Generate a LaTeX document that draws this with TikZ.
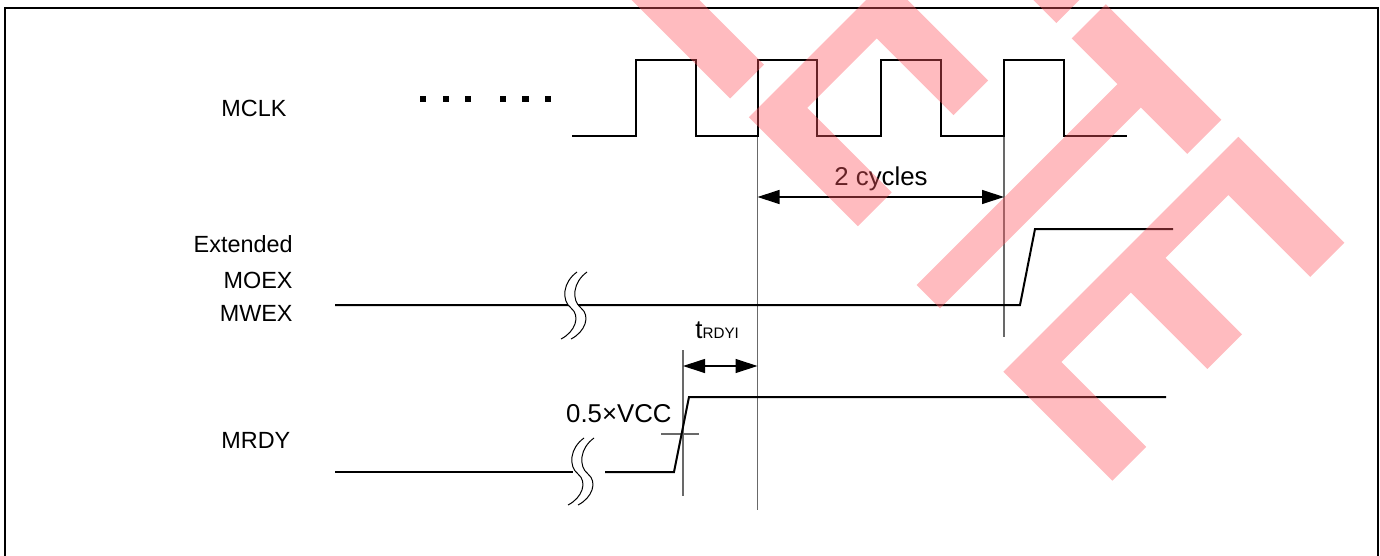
\documentclass[tikz,border=0pt]{standalone}
\usepackage{fontspec}
\setmainfont{Liberation Sans}
\usetikzlibrary{arrows.meta}
\definecolor{wm}{RGB}{255,85,95}
\definecolor{guide}{RGB}{105,105,105}
\tikzset{
  sig/.style={line width=1pt, line join=miter, black},
  guideline/.style={line width=0.6pt, guide},
  dim/.style={line width=0.6pt, {Triangle[length=11pt,width=7pt]}-{Triangle[length=11pt,width=7pt]}},
  lbl/.style={inner sep=0pt, font=\fontsize{11.7}{14}\selectfont},
  ann/.style={inner sep=0pt, font=\fontsize{12.9}{15}\selectfont},
  wmark/.style={fill=wm, fill opacity=0.4},
  pics/brk/.style={code={
    \fill[white] (0,0) .. controls (-14,10) and (-16,28) .. (-6,36) .. controls (4,44) and (-2,60) .. (-16,67)
       -- (-6,67) .. controls (8,60) and (14,44) .. (4,36) .. controls (-6,28) and (-4,10) .. (10,0) -- cycle;
    \draw[line width=0.5pt] (0,0) .. controls (-14,10) and (-16,28) .. (-6,36) .. controls (4,44) and (-2,60) .. (-16,67);
    \draw[line width=0.5pt] (10,0) .. controls (-4,10) and (-6,28) .. (4,36) .. controls (14,44) and (8,60) .. (-6,67);
  }}
}
\begin{document}
\begin{tikzpicture}[x=0.5pt,y=-0.5pt]
\useasboundingbox (0,0) rectangle (1380,556);
\clip (0,0) rectangle (1380,556);
\draw[line width=1.2pt] (5,600) -- (5,8) -- (1378,8) -- (1378,600);

% labels
\node[lbl,anchor=west] (mclk) at (221,108) {MCLK};
\node[lbl,anchor=east] (ext) at (293,244) {Extended};
\node[lbl,anchor=east] (moex) at (293,280) {MOEX};
\node[lbl,anchor=east] (mwex) at (293,313) {MWEX};
\node[lbl,anchor=west] (mrdy) at (221,440) {MRDY};

% dots
\foreach \x in {422.7,445.7,468,502.7,525.3,547.7}
  \fill (\x-3.2,96) rectangle (\x+3.2,102.4);

% guide lines
\draw[guideline] (757.5,136) -- (757.5,510);
\draw[guideline] (1004,136) -- (1004,337);
\draw[guideline] (683,350) -- (683,496);
\draw[guideline] (661,434) -- (699,434);

% MCLK
\draw[sig] (572,136) -- (636,136) -- (636,60) -- (696,60) -- (696,136) -- (757.5,136) -- (757.5,60)
  -- (817,60) -- (817,136) -- (881,136) -- (881,60) -- (941,60) -- (941,136) -- (1004,136)
  -- (1004,60) -- (1064,60) -- (1064,136) -- (1127,136);

% Extended MOEX/MWEX
\draw[sig] (335,305) -- (1020,305) -- (1035,229) -- (1173,229);
\pic at (577,272) {brk};

% MRDY
\draw[sig] (335,472) -- (573,472);
\draw[sig] (605,472) -- (674,472) -- (689,397) -- (1166,397);
\pic at (584,438) {brk};

% dimensions
\coordinate (c1) at (757.5,197);
\coordinate (c2) at (1004,197);
\draw[dim] (c1) -- (c2);
\node[ann,anchor=base] (cyc) at (881,185) {2 cycles};
\coordinate (t1) at (683,366);
\coordinate (t2) at (757.5,366);
\draw[dim] (t1) -- (t2);
\node[ann,anchor=base west] (trdyi) at (695,338) {t{\fontsize{7.6}{9}\selectfont RDYI}};
\node[ann,anchor=base east] (vcc) at (672,422) {0.5×VCC};

% watermark
\fill[wmark] (611.6,-20) -- (679.3,-20) -- (763.9,64.6) -- (730.05,98.45) -- cycle;
\fill[wmark] (748.8,117.2) -- (886.85,-20.85) -- (988.1,80.4) -- (953.45,115.05) -- (876.7,38.3)
  -- (807.15,107.85) -- (891.65,192.35) -- (857.8,226.2) -- cycle;
\fill[wmark] (1013.3,-20) -- (1081.5,-20) -- (1090.45,-11.05) -- (1056.35,23.05) -- cycle;
\fill[wmark] (1071.65,38.35) -- (1105.75,4.25) -- (1221.25,119.75) -- (1187.15,153.85) -- (1140.8,107.5)
  -- (940,308.3) -- (916.7,285) -- (1117.5,84.2) -- cycle;
\fill[wmark] (1003.3,371.7) -- (1238.25,136.75) -- (1344.25,242.75) -- (1310.15,276.85) -- (1228.35,195.05)
  -- (1165.55,257.85) -- (1242,334.3) -- (1207.35,368.95) -- (1130.9,292.5) -- (1061.35,362.05)
  -- (1146.15,446.85) -- (1112.3,480.7) -- cycle;
\end{tikzpicture}
\end{document}
